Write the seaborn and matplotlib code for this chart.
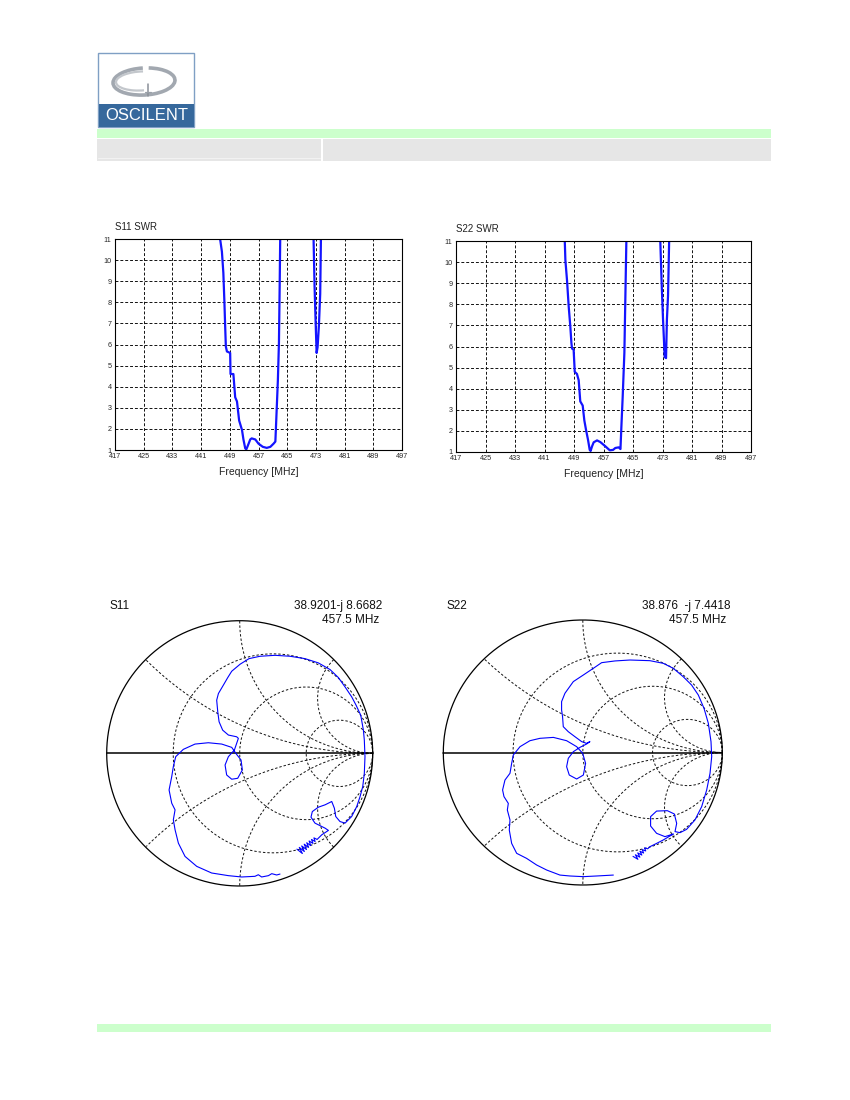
import numpy as np
import pandas as pd
import matplotlib
matplotlib.use("Agg")
import matplotlib.pyplot as plt
import seaborn as sns
from matplotlib.patches import Rectangle, Arc

# ---- SWR data ----
s11_f_main = [445.8, 446.3, 446.8, 447.2, 447.5, 447.7, 447.9, 448.2, 449.1, 449.2, 450.0, 450.5,
              451.0, 451.6, 452.4, 452.8, 453.3, 453.6, 453.9, 454.7, 455.1, 456.1, 457.0, 458.2,
              459.3, 460.3, 461.2, 461.7, 461.8, 462.1, 462.4, 462.7, 462.9, 463.05, 463.1]
s11_swr_main = [12, 11, 10.4, 9.4, 8.0, 6.9, 5.9, 5.67, 5.6, 4.6, 4.6, 3.5,
                3.3, 2.4, 1.95, 1.5, 1.08, 1.03, 1.15, 1.5, 1.55, 1.5, 1.3, 1.15,
                1.1, 1.15, 1.3, 1.4, 1.8, 3.05, 4.3, 6.1, 8.75, 11, 12]
s11_f_notch = [472.3, 472.35, 472.63, 472.9, 473.2, 473.47, 473.84, 474.2, 474.4, 474.45]
s11_swr_notch = [12, 11, 8.75, 7.2, 5.6, 5.87, 6.9, 8.4, 11, 12]

s22_f_main = [446.4, 446.5, 446.66, 447.1, 447.56, 448.0, 448.3, 448.47, 448.9, 449.2, 449.8, 450.27,
              450.7, 451.36, 451.8, 452.26, 452.8, 453.26, 453.5, 453.9, 454.34, 455.25, 456.15,
              457.5, 458.7, 459.6, 460.2, 461.1, 461.6, 461.85, 462.2, 462.66, 462.9, 463.2, 463.3]
s22_swr_main = [12, 11, 10.1, 9.15, 7.9, 6.95, 6.16, 5.9, 5.85, 4.8, 4.7, 4.4,
                3.4, 3.2, 2.5, 2.05, 1.58, 1.1, 1.05, 1.27, 1.46, 1.55, 1.47,
                1.27, 1.08, 1.1, 1.19, 1.22, 1.14, 2.2, 3.6, 5.7, 8.05, 11, 12]
s22_f_notch = [472.3, 472.4, 472.8, 473.15, 473.6, 473.96, 474.2, 474.5, 474.8, 474.9]
s22_swr_notch = [12, 11, 8.85, 7.25, 5.5, 5.45, 7.3, 8.4, 11, 12]

freq_ticks = [417, 425, 433, 441, 449, 457, 465, 473, 481, 489, 497]
swr_ticks = [1, 2, 3, 4, 5, 6, 7, 8, 9, 10, 11]

# ---- Smith chart traces: reflection coefficient (re, im) ----
s11_re = [0.430, 0.471, 0.448, 0.486, 0.466, 0.502, 0.485, 0.518, 0.504, 0.534, 0.522,
          0.551, 0.540, 0.567, 0.558, 0.582, 0.617, 0.667,
          0.642, 0.566, 0.536, 0.546, 0.591, 0.642, 0.692, 0.712, 0.722, 0.754, 0.792,
          0.842, 0.880, 0.905, 0.925, 0.937, 0.942, 0.937, 0.930, 0.910, 0.875, 0.842, 0.792,
          0.742, 0.679, 0.591, 0.491, 0.378, 0.266, 0.153, 0.070, 0.003, -0.060, -0.090,
          -0.123, -0.160, -0.173, -0.165, -0.155, -0.128, -0.085, -0.023, -0.010,
          -0.040, -0.085, -0.110, -0.098, -0.060, -0.015, 0.020, 0.010, -0.023, -0.060,
          -0.135, -0.236, -0.336, -0.424, -0.481, -0.499, -0.511, -0.531, -0.511, -0.486,
          -0.499, -0.486, -0.461, -0.411, -0.323, -0.211, -0.085, 0.015, 0.115, 0.140,
          0.165, 0.216, 0.241, 0.278, 0.303]
s11_im = [-0.722, -0.755, -0.709, -0.740, -0.698, -0.725, -0.685, -0.709, -0.674, -0.695, -0.661,
          -0.679, -0.649, -0.665, -0.637, -0.649, -0.614, -0.581,
          -0.564, -0.526, -0.481, -0.439, -0.406, -0.388, -0.363, -0.414, -0.476, -0.514, -0.526,
          -0.476, -0.401, -0.326, -0.251, -0.150, -0.025, 0.100, 0.175, 0.288, 0.363, 0.426, 0.501,
          0.571, 0.632, 0.682, 0.714, 0.732, 0.739, 0.732, 0.714, 0.672, 0.619, 0.571,
          0.514, 0.451, 0.401, 0.313, 0.238, 0.175, 0.138, 0.125, 0.113,
          0.025, -0.025, -0.088, -0.163, -0.195, -0.188, -0.125, -0.050, -0.008, 0.045,
          0.070, 0.080, 0.070, 0.030, -0.025, -0.100, -0.175, -0.276, -0.376, -0.426,
          -0.501, -0.576, -0.677, -0.777, -0.852, -0.902, -0.922, -0.932, -0.927, -0.915,
          -0.932, -0.922, -0.907, -0.917, -0.910]

s22_re = [0.360, 0.395, 0.377, 0.409, 0.394, 0.423, 0.410, 0.436, 0.426, 0.451, 0.443, 0.465,
          0.481, 0.529, 0.577, 0.625,
          0.649, 0.589, 0.529, 0.486, 0.486, 0.529, 0.606, 0.656, 0.673, 0.661, 0.697,
          0.744, 0.804, 0.852, 0.888, 0.912, 0.924, 0.919, 0.900, 0.869, 0.828, 0.780, 0.720,
          0.649, 0.577, 0.481, 0.338, 0.231, 0.135, 0.075, 0.004, -0.068, -0.128, -0.152,
          -0.152, -0.145, -0.140, -0.104, -0.056, -0.008, 0.027, 0.051, 0.027,
          -0.020, -0.068, -0.104, -0.116, -0.097, -0.044, 0.004, 0.020, -0.001, -0.044,
          -0.116, -0.211, -0.307, -0.379, -0.450, -0.498, -0.510, -0.522, -0.558, -0.575,
          -0.565, -0.534, -0.541, -0.522, -0.527, -0.510, -0.474, -0.403, -0.331, -0.259,
          -0.164, -0.092, 0.004, 0.099, 0.219]
s22_im = [-0.784, -0.806, -0.772, -0.790, -0.758, -0.774, -0.745, -0.759, -0.733, -0.743, -0.719, -0.727,
          -0.711, -0.686, -0.660, -0.630,
          -0.615, -0.635, -0.610, -0.555, -0.484, -0.442, -0.439, -0.464, -0.535, -0.597, -0.605,
          -0.580, -0.509, -0.409, -0.283, -0.157, -0.031, 0.082, 0.220, 0.333, 0.434, 0.509, 0.572,
          0.635, 0.673, 0.693, 0.698, 0.691, 0.678, 0.635, 0.585, 0.535, 0.447, 0.384,
          0.321, 0.270, 0.195, 0.157, 0.119, 0.082, 0.069, 0.082, 0.064,
          0.039, 0.006, -0.044, -0.107, -0.170, -0.200, -0.170, -0.082, -0.006, 0.044,
          0.089, 0.114, 0.107, 0.089, 0.044, -0.019, -0.082, -0.157, -0.208, -0.283,
          -0.333, -0.384, -0.434, -0.509, -0.585, -0.686, -0.761, -0.799, -0.849, -0.887,
          -0.925, -0.932, -0.937, -0.932, -0.925]

smith_r = [1 / 3, 1, 3]
smith_x = [0.414, 1, 2.414]

sns.set_style("white")
plt.rcParams["font.family"] = ["Liberation Sans", "DejaVu Sans"]

W, H = 850, 1100
fig = plt.figure(figsize=(8.5, 11), dpi=100)


def box(x0, y0, x1, y1):
    return [x0 / W, 1 - y1 / H, (x1 - x0) / W, (y1 - y0) / H]


# ---- page decoration ----
bg = fig.add_axes([0, 0, 1, 1], zorder=-5)
bg.set_xlim(0, W)
bg.set_ylim(H, 0)
bg.axis("off")
bg.add_patch(Rectangle((97, 129), 674, 9, color="#ccffcc", lw=0))
bg.add_patch(Rectangle((97, 139), 224, 22, color="#e6e6e6", lw=0))
bg.add_patch(Rectangle((323, 139), 448, 22, color="#e6e6e6", lw=0))
bg.plot([98, 320], [157.5, 157.5], color="#f2f2f2", lw=0.8)
bg.add_patch(Rectangle((97, 1024), 674, 8, color="#ccffcc", lw=0))

# logo
bg.add_patch(Rectangle((98.5, 52.5), 96, 74, facecolor="white", edgecolor="#7f9fc4", lw=1))
bg.add_patch(Rectangle((99, 103.5), 95, 23, color="#36689c", lw=0))
bg.add_patch(Arc((144, 81.5), 62, 27, angle=-3, theta1=292, theta2=628,
                 edgecolor="#a2a8b0", lw=2.6))
bg.add_patch(Arc((141, 81), 50, 19, angle=-3, theta1=75, theta2=285,
                 edgecolor="#c3c7cc", lw=1.6))
bg.plot([148, 148], [84, 96], color="#8a9098", lw=1.1)
bg.plot([145, 151], [92, 92], color="#9aa0a8", lw=0.9)
bg.text(146.5, 115.5, "OSCILENT", color="white", fontsize=12, ha="center", va="center",
        family=["Liberation Sans Narrow", "Liberation Sans"])


# ---- SWR plots ----
def swr_plot(rect, title, segments):
    ax = fig.add_axes(rect)
    for f, s in segments:
        df = pd.DataFrame({"freq": f, "swr": s})
        sns.lineplot(data=df, x="freq", y="swr", sort=False, estimator=None,
                     color="#1414ff", lw=1.6, ax=ax)
    ax.set_xlim(417, 497)
    ax.set_ylim(1, 11)
    ax.set_xticks(freq_ticks)
    ax.set_yticks(swr_ticks)
    ax.grid(True, color="#111111", linestyle=(0, (3, 2)), lw=0.7)
    ax.tick_params(length=0, labelsize=5.2, pad=2.5)
    for sp in ax.spines.values():
        sp.set_color("black")
        sp.set_linewidth(0.8)
    ax.set_xlabel("Frequency [MHz]", fontsize=7.5, labelpad=5, color="#222222")
    ax.set_ylabel("")
    ax.text(0, 1.035, title, transform=ax.transAxes, fontsize=7, ha="left", va="bottom",
            color="#222222")
    return ax


swr_plot(box(115, 239, 402, 450), "S11 SWR",
         [(s11_f_main, s11_swr_main), (s11_f_notch, s11_swr_notch)])
swr_plot(box(456, 241, 751, 452), "S22 SWR",
         [(s22_f_main, s22_swr_main), (s22_f_notch, s22_swr_notch)])


# ---- Smith charts ----
def smith_plot(rect, re, im):
    ax = fig.add_axes(rect)
    ax.set_xlim(-1, 1)
    ax.set_ylim(-1, 1)
    t = np.linspace(0, 2 * np.pi, 1200)
    dash = dict(color="#111111", lw=0.7, linestyle=(0, (2.5, 2)), clip_on=False)
    for r in smith_r:
        c, rad = r / (1 + r), 1 / (1 + r)
        ax.plot(c + rad * np.cos(t), rad * np.sin(t), **dash)
    for x in smith_x:
        for sgn in (1, -1):
            px = 1 + np.cos(t) / x
            py = sgn / x + np.sin(t) / x
            out = px ** 2 + py ** 2 > 1.0
            px[out] = np.nan
            py[out] = np.nan
            ax.plot(px, py, **dash)
    ax.plot(np.cos(t), np.sin(t), color="black", lw=0.9, clip_on=False)
    ax.plot([-1, 1], [0, 0], color="black", lw=1.1, clip_on=False)
    df = pd.DataFrame({"re": re, "im": im})
    sns.lineplot(data=df, x="re", y="im", sort=False, estimator=None,
                 color="#0000ff", lw=0.8, ax=ax)
    ax.axis("off")
    return ax


smith_plot(box(106.7, 620.7, 372.7, 886), s11_re, s11_im)
smith_plot(box(443.3, 620, 722.3, 885), s22_re, s22_im)

txt = dict(fontsize=8.5, color="#111111", va="top")
bg.text(110, 600, "S11", ha="left", **txt)
bg.text(382, 600, "38.9201-j 8.6682", ha="right", **txt)
bg.text(322, 614, "457.5 MHz", ha="left", **txt)
bg.text(447, 600, "S22", ha="left", **txt)
bg.text(731, 600, "38.876  -j 7.4418", ha="right", **txt)
bg.text(669, 614, "457.5 MHz", ha="left", **txt)

fig.savefig("out.png", dpi=100)
